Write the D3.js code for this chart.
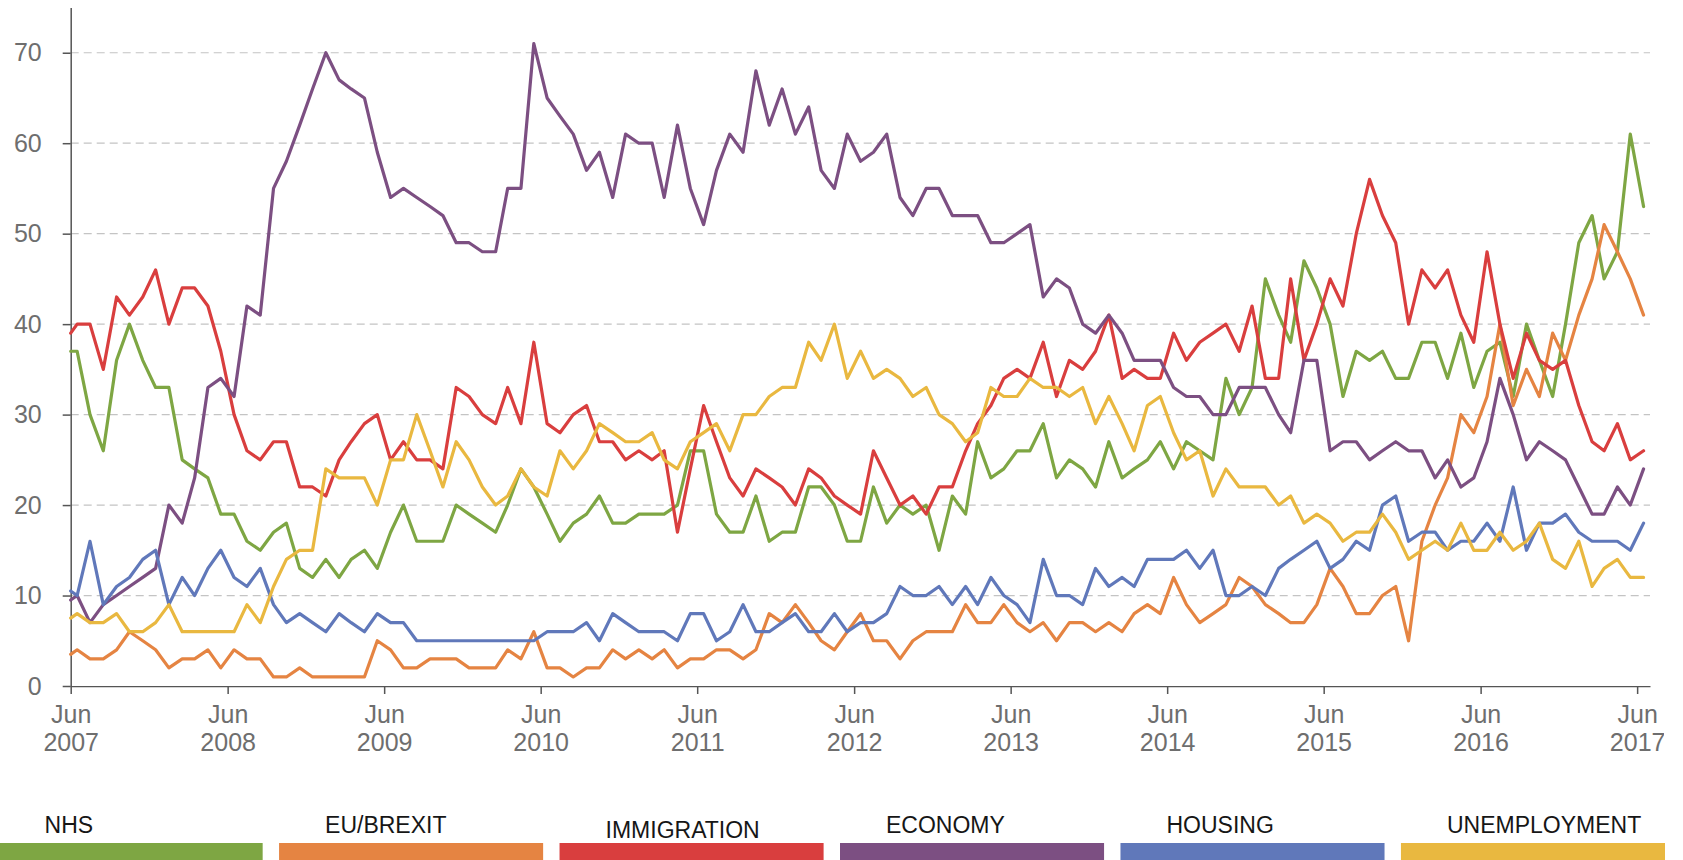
<!DOCTYPE html>
<html>
<head>
<meta charset="utf-8">
<script src="https://cdn.jsdelivr.net/npm/d3@7"></script>
<style>
  body { margin: 0; background: #ffffff; }
  svg { display: block; font-family: "Liberation Sans", Arial, Helvetica, sans-serif; }
</style>
</head>
<body>
<svg id="chart" width="1683" height="860"></svg>
<script>
// ---------------- DATA ----------------
const categories = ["NHS", "EU/BREXIT", "IMMIGRATION", "ECONOMY", "HOUSING", "UNEMPLOYMENT"];
const seriesColors = ["#7ea643", "#e58442", "#d93e3e", "#7c4f82", "#6078ba", "#e9b840"];

// survey dates: first reading at 1 Jun 2007, then one reading per month (mid-month) Jun 2007 .. Jun 2017
const firstSurvey = "2007-06-01";
const monthlyStart = "2007-06";
const monthlyEnd = "2017-06";

const nhs = [37, 37,30,26,36,40,36,33,33,25,24, 23,19,19,16,15,17,18,13,12,14, 12,14,15,13,17,20,16,16,16,20,
  19,18,17,20,24,22,19,16,18,19, 21,18,18,19,19,19,20,26,26,19, 17,17,21,16,17,17,22,22,20,16,
  16,22,18,20,19,20,15,21,19,27, 23,24,26,26,29,23,25,24,22,27, 23,24,25,27,24,27,26,25,34,30,
  33,45,41,38,47,44,40,32,37,36, 37,34,34,38,38,34,39,33,37,38, 32,40,36,32,40,49,52,45,48,61, 53];

const euBrexit = [3.5, 4,3,3,4,6,5,4,2,3,3, 4,2,4,3,3,1,1,2,1,1, 1,1,1,5,4,2,2,3,3,3,
  2,2,2,4,3,6,2,2,1,2, 2,4,3,4,3,4,2,3,3,4, 4,3,4,8,7,9,7,5,4,6,
  8,5,5,3,5,6,6,6,9,7, 7,9,7,6,7,5,7,7,6,7, 6,8,9,8,12,9,7,8,9,12,
  11,9,8,7,7,9,13,11,8,8, 10,11,5,16,20,23,30,28,32,40, 31,35,32,39,36,41,45,51,48,45, 41];

const immigration = [39, 40,40,35,43,41,43,46,40,44,44, 42,37,30,26,25,27,27,22,22,21, 25,27,29,30,25,27,25,25,24,33,
  32,30,29,33,29,38,29,28,30,31, 27,27,25,26,25,26,17,24,31,27, 23,21,24,23,22,20,24,23,21,20,
  19,26,23,20,21,19,22,22,26,29, 31,34,35,34,38,32,36,35,37,41, 34,35,34,34,39,36,38,39,40,37,
  42,34,34,45,36,40,45,42,50,56, 52,49,40,46,44,46,41,38,48,40, 34,39,36,35,36,31,27,26,29,25, 26];

const economy = [9.5, 10,7,9,10,11,12,13,20,18,23, 33,34,32,42,41,55,58,62,66,70, 67,66,65,59,54,55,54,53,52,49,
  49,48,48,55,55,71,65,63,61,57, 59,54,61,60,60,54,62,55,51,57, 61,59,68,62,66,61,64,57,55,61,
  58,59,61,54,52,55,55,52,52,52, 49,49,50,51,43,45,44,40,39,41, 39,36,36,36,33,32,32,30,30,33,
  33,33,30,28,36,36,26,27,27,25, 26,27,26,26,23,25,22,23,27,34, 30,25,27,26,25,22,19,19,22,20, 24];

const housing = [10.5, 10,16,9,11,12,14,15,9,12,10, 13,15,12,11,13,9,7,8,7,6, 8,7,6,8,7,7,5,5,5,5,
  5,5,5,5,5,5,6,6,6,7, 5,8,7,6,6,6,5,8,8,5, 6,9,6,6,7,8,6,6,8,6,
  7,7,8,11,10,10,11,9,11,9, 12,10,9,7,14,10,10,9,13,11, 12,11,14,14,14,15,13,15,10,10,
  11,10,13,14,15,16,13,14,16,15, 20,21,16,17,17,15,16,16,18,16, 22,15,18,18,19,17,16,16,16,15, 18];

const unemployment = [7.5, 8,7,7,8,6,6,7,9,6,6, 6,6,6,9,7,11,14,15,15,24, 23,23,23,20,25,25,30,26,22,27,
  25,22,20,21,24,22,21,26,24,26, 29,28,27,27,28,25,24,27,28,29, 26,30,30,32,33,33,38,36,40,34,
  37,34,35,34,32,33,30,29,27,28, 33,32,32,34,33,33,32,33,29,32, 29,26,31,32,28,25,26,21,24,22,
  22,22,20,21,18,19,18,16,17,17, 19,17,14,15,16,15,18,15,15,17, 15,16,18,14,13,16,11,13,14,12, 12];

const yTickValues = [0, 10, 20, 30, 40, 50, 60, 70];
const xTickMonthLabel = "Jun";
const xTickYears = [2007, 2008, 2009, 2010, 2011, 2012, 2013, 2014, 2015, 2016, 2017];
const yMax = 75;

// ---------------- BUILD ----------------
const parseDay = d3.timeParse("%Y-%m-%d");
const parseMonth = d3.timeParse("%Y-%m");
const monthStarts = d3.timeMonth.range(parseMonth(monthlyStart), d3.timeMonth.offset(parseMonth(monthlyEnd), 1));
const surveyDates = [parseDay(firstSurvey)].concat(monthStarts.map(d => new Date(d.getFullYear(), d.getMonth(), 16)));

const allSeries = [nhs, euBrexit, immigration, economy, housing, unemployment];

const svg = d3.select("#chart");
const W = 1683, H = 860;
const plot = { left: 70.7, right: 1650, top: 7.5, bottom: 686 };

const x = d3.scaleTime()
  .domain([parseMonth(monthlyStart), d3.timeMonth.offset(parseMonth(monthlyEnd), 1)])
  .range([plot.left, plot.right]);
const y = d3.scaleLinear().domain([0, yMax]).range([plot.bottom, plot.top]);

// gridlines
svg.append("g")
  .selectAll("line")
  .data(yTickValues.filter(v => v > 0))
  .join("line")
  .attr("x1", plot.left).attr("x2", plot.right)
  .attr("y1", d => y(d)).attr("y2", d => y(d))
  .attr("stroke", "#c4c4c4").attr("stroke-width", 1.2)
  .attr("stroke-dasharray", "8,5");

// y axis
const yAxisG = svg.append("g")
  .attr("transform", `translate(${plot.left},0)`)
  .call(d3.axisLeft(y).tickValues(yTickValues).tickSize(8).tickSizeOuter(0).tickPadding(21));
yAxisG.select(".domain").attr("stroke", "#555").attr("stroke-width", 1.5);
yAxisG.selectAll(".tick line").attr("stroke", "#555").attr("stroke-width", 1.5);
yAxisG.selectAll(".tick text").attr("font-size", 25).attr("fill", "#6e6e6e")
  .attr("font-family", "Liberation Sans, Arial, sans-serif");

// x axis
svg.append("clipPath").attr("id", "xclip")
  .append("rect").attr("x", 0).attr("y", 0).attr("width", 1664).attr("height", H);
const juneTicks = xTickYears.map(yr => new Date(yr, 5, 1));
const xAxisG = svg.append("g")
  .attr("transform", `translate(0,${plot.bottom})`)
  .attr("clip-path", "url(#xclip)")
  .call(d3.axisBottom(x).tickValues(juneTicks).tickSize(8).tickSizeOuter(0));
xAxisG.select(".domain").attr("stroke", "#555").attr("stroke-width", 1.5);
xAxisG.selectAll(".tick line").attr("stroke", "#555").attr("stroke-width", 1.5);
xAxisG.selectAll(".tick text").each(function(d) {
  const t = d3.select(this);
  t.text(null).attr("dy", null).attr("y", null)
    .attr("font-size", 25).attr("fill", "#6e6e6e")
    .attr("font-family", "Liberation Sans, Arial, sans-serif");
  t.append("tspan").attr("x", 0).attr("y", 37).text(xTickMonthLabel);
  t.append("tspan").attr("x", 0).attr("y", 65).text(d.getFullYear());
});

// lines
const line = d3.line()
  .x((d, i) => x(surveyDates[i]))
  .y(d => y(d));

svg.append("g")
  .selectAll("path")
  .data(allSeries)
  .join("path")
  .attr("d", d => line(d))
  .attr("fill", "none")
  .attr("stroke", (d, i) => seriesColors[i])
  .attr("stroke-width", 3.2)
  .attr("stroke-linejoin", "round")
  .attr("stroke-linecap", "round");

// legend
const legendX = d3.scaleBand().domain(categories).range([-1.4, 1665]).paddingInner(0.0585).paddingOuter(0);
const legend = svg.append("g");
legend.selectAll("rect")
  .data(categories)
  .join("rect")
  .attr("x", d => legendX(d))
  .attr("y", 843)
  .attr("width", legendX.bandwidth())
  .attr("height", 17)
  .attr("fill", (d, i) => seriesColors[i]);
legend.selectAll("text")
  .data(categories)
  .join("text")
  .attr("x", d => legendX(d) + 46)
  .attr("y", (d, i) => i === 2 ? 838 : 833)
  .attr("font-size", 23)
  .attr("fill", "#161616")
  .text(d => d);
</script>
</body>
</html>
